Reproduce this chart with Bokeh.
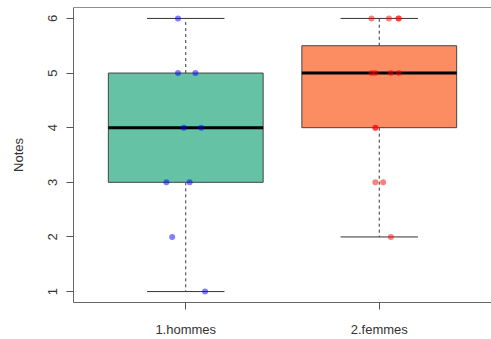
from bokeh.plotting import figure
from bokeh.models import Range1d, FixedTicker, Span
from bokeh.embed import file_html
from bokeh.resources import INLINE

# Groups and their box statistics (Notes)
groups = ["1.hommes", "2.femmes"]
group_pos = [1, 2]
box_fill = ["#66C2A5", "#FC8D62"]
whisker_low = [1, 2]
q1 = [3, 4]
median = [4, 5]
q3 = [5, 5.5]
whisker_high = [6, 6]

# Individual observations, jittered horizontally
hommes_x = [0.96, 0.96, 1.05, 0.99, 1.08, 0.90, 1.02, 0.93, 1.10]
hommes_y = [6, 5, 5, 4, 4, 3, 3, 2, 1]
femmes_x = [1.96, 2.05, 2.10, 2.10, 1.96, 1.98, 2.06, 2.10, 1.98, 1.98, 1.98, 2.02, 2.06]
femmes_y = [6, 6, 6, 6, 5, 5, 5, 5, 4, 4, 3, 3, 2]

box_half = 0.4
cap_half = 0.2

p = figure(width=491, height=339, output_backend="svg", toolbar_location=None,
           x_range=Range1d(0.42, 2.58), y_range=Range1d(0.8, 6.2),
           min_border_left=73, min_border_right=0, min_border_top=7,
           min_border_bottom=36)
p.outline_line_color = None
p.xgrid.visible = False
p.ygrid.visible = False
p.background_fill_color = "white"
p.border_fill_color = "white"

left = [x - box_half for x in group_pos]
right = [x + box_half for x in group_pos]
cap_l = [x - cap_half for x in group_pos]
cap_r = [x + cap_half for x in group_pos]

# whiskers
p.segment(x0=group_pos, y0=q3, x1=group_pos, y1=whisker_high,
          line_color="#333333", line_dash="3 3", line_width=1)
p.segment(x0=group_pos, y0=q1, x1=group_pos, y1=whisker_low,
          line_color="#333333", line_dash="3 3", line_width=1)
p.segment(x0=cap_l, y0=whisker_high, x1=cap_r, y1=whisker_high,
          line_color="#333333", line_width=1)
p.segment(x0=cap_l, y0=whisker_low, x1=cap_r, y1=whisker_low,
          line_color="#333333", line_width=1)

# boxes and medians
p.quad(left=left, right=right, bottom=q1, top=q3, fill_color=box_fill,
       line_color="#444444", line_width=1)
p.segment(x0=left, y0=median, x1=right, y1=median,
          line_color="black", line_width=3)

# points
p.scatter(hommes_x, hommes_y, size=6, fill_color="blue", fill_alpha=0.5,
          line_color=None)
p.scatter(femmes_x, femmes_y, size=6, fill_color="red", fill_alpha=0.5,
          line_color=None)

# top frame line
p.add_layout(Span(location=6.2, dimension="width", line_color="#222222",
                  line_width=1))

font = "Liberation Sans"

p.xaxis.ticker = FixedTicker(ticks=group_pos)
p.xaxis.major_label_overrides = {pos: name for pos, name in zip(group_pos, groups)}
p.yaxis.ticker = FixedTicker(ticks=[1, 2, 3, 4, 5, 6])
p.yaxis.axis_label = "Notes"
p.yaxis.major_label_orientation = "vertical"

for ax in (p.xaxis, p.yaxis):
    ax.axis_line_color = "#666666"
    ax.major_tick_line_color = "#555555"
    ax.major_tick_out = 7
    ax.major_tick_in = 0
    ax.minor_tick_line_color = None
    ax.major_label_text_font = font
    ax.major_label_text_font_size = "13px"
    ax.major_label_text_color = "#333333"

p.xaxis.major_label_standoff = 12
p.yaxis.major_label_standoff = 9
p.yaxis.axis_label_text_font = font
p.yaxis.axis_label_text_font_size = "13px"
p.yaxis.axis_label_text_font_style = "normal"
p.yaxis.axis_label_text_color = "#333333"
p.yaxis.axis_label_standoff = 20

open("out.html", "w").write(file_html(p, INLINE))
